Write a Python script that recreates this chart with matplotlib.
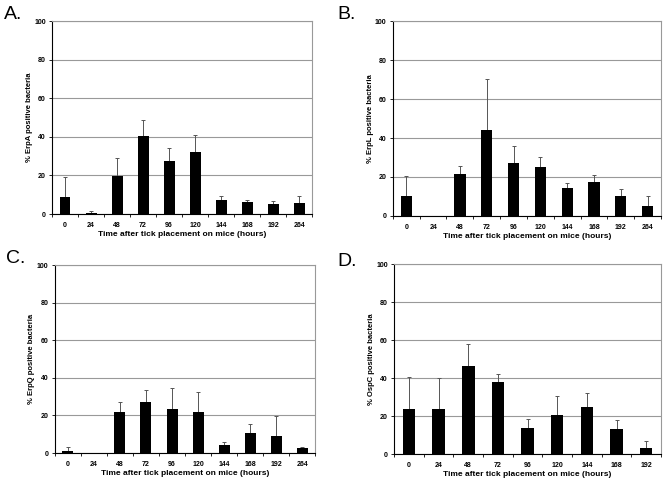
import numpy as np
import matplotlib
matplotlib.use('Agg')
import matplotlib.pyplot as plt

plt.rcParams['font.family'] = ['Liberation Sans', 'DejaVu Sans']

# tempos (horas) e valores
horas_abc = ['0', '24', '48', '72', '96', '120', '144', '168', '192', '264']
horas_d = ['0', '24', '48', '72', '96', '120', '144', '168', '192']

erpa = [8.9, 0.7, 19.9, 40.3, 27.6, 32.1, 7.5, 6.2, 5.1, 5.8]
erpa_err = [10.1, 0.8, 8.9, 8.7, 6.4, 9.1, 1.9, 1.2, 1.6, 3.5]

erpl = [10.3, 0.0, 21.6, 44.3, 27.3, 24.9, 14.1, 17.5, 10.3, 5.2]
erpl_err = [10.0, 0.0, 3.8, 25.8, 8.8, 5.5, 2.9, 3.3, 3.3, 4.8]

erpq = [1.0, 0.0, 21.8, 27.4, 23.5, 21.8, 4.2, 10.5, 9.3, 2.6]
erpq_err = [2.2, 0.0, 5.2, 5.9, 10.9, 10.5, 1.8, 4.9, 10.3, 0.9]

ospc = [23.7, 23.7, 46.3, 37.8, 13.8, 20.7, 24.7, 13.2, 3.1]
ospc_err = [16.7, 16.2, 11.4, 4.2, 4.7, 9.8, 7.4, 4.7, 3.7]

# letra, rotulo y, categorias, valores, erros, posicao do eixo, posicao da letra
paineis = [
    ('A.', '% ErpA positive bacteria', horas_abc, erpa, erpa_err,
     [0.078, 0.556, 0.390, 0.400], (0.006, 0.987)),
    ('B.', '% ErpL positive bacteria', horas_abc, erpl, erpl_err,
     [0.589, 0.552, 0.402, 0.404], (0.506, 0.987)),
    ('C.', '% ErpQ positive bacteria', horas_abc, erpq, erpq_err,
     [0.082, 0.060, 0.391, 0.390], (0.009, 0.481)),
    ('D.', '% OspC positive bacteria', horas_d, ospc, ospc_err,
     [0.591, 0.058, 0.400, 0.394], (0.506, 0.476)),
]

fig = plt.figure(figsize=(6.67, 4.82), dpi=100)

for letra, ylab, horas, vals, errs, pos, lpos in paineis:
    ax = fig.add_axes(pos)
    x = np.arange(len(horas))
    ax.bar(x, vals, width=0.42, color='black', zorder=3)
    ax.errorbar(x, vals, yerr=[np.zeros(len(errs)), errs], fmt='none',
                ecolor='#555555', elinewidth=0.7, capsize=1.2, capthick=0.7, zorder=2)
    ax.set_xlim(-0.5, len(horas) - 0.5)
    ax.set_ylim(0, 100)
    ax.set_yticks([0, 20, 40, 60, 80, 100])
    ax.set_xticks(x)
    ax.set_xticklabels(horas)
    ax.set_xticks(np.arange(len(horas) + 1) - 0.5, minor=True)
    ax.tick_params(axis='x', which='major', length=0, labelsize=5, pad=6)
    ax.tick_params(axis='x', which='minor', length=2.5, width=0.6)
    ax.tick_params(axis='y', length=2.5, width=0.6, labelsize=5, pad=2)
    for lb in ax.get_xticklabels() + ax.get_yticklabels():
        lb.set_fontweight('bold')
    ax.yaxis.grid(True, color='#999999', linewidth=0.8, zorder=0)
    ax.spines['left'].set_linewidth(0.8)
    ax.spines['bottom'].set_linewidth(0.8)
    ax.spines['right'].set_color('#999999')
    ax.spines['top'].set_color('#999999')
    ax.set_ylabel(ylab, fontsize=5.5, fontweight='bold', labelpad=1)
    ax.set_xlabel('Time after tick placement on mice (hours)', fontsize=6, fontweight='bold', labelpad=1)
    fig.text(lpos[0], lpos[1], letra, fontsize=14, va='top', ha='left')

plt.savefig('out.png', dpi=100)
